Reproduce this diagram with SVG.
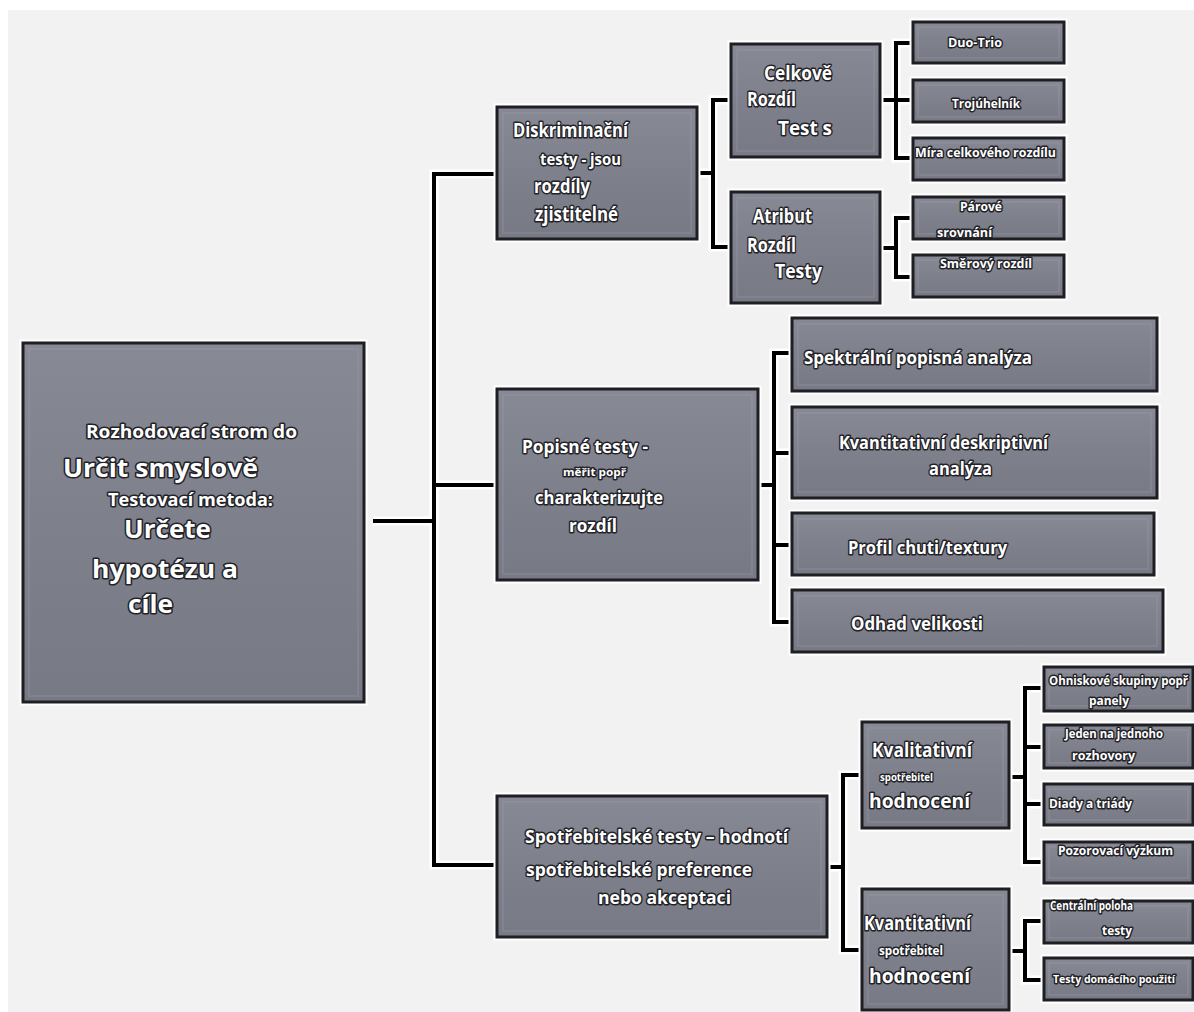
<svg xmlns="http://www.w3.org/2000/svg" width="1194" height="1012" viewBox="0 0 1194 1012">
<style>
.bg{fill:#f2f2f2}
.b{fill:url(#bf);stroke:#1e1e23;stroke-width:3}
.bi{fill:none;stroke:#a4a6b0;stroke-opacity:.22;stroke-width:2}
.bh{fill:none;stroke:#ffffff;stroke-width:7}
.t{font-family:"Open Sans","Liberation Sans",sans-serif;font-weight:700;fill:#ffffff;stroke:#222227;stroke-width:3;paint-order:stroke;stroke-linejoin:round}
.halo{fill:none;stroke:#ffffff;stroke-width:9;stroke-linejoin:miter}
.ln{fill:none;stroke:#000000;stroke-width:4;stroke-linejoin:miter}
</style>
<defs>
<linearGradient id="bf" x1="0" y1="0" x2="0" y2="1">
<stop offset="0" stop-color="#878994"/>
<stop offset="0.5" stop-color="#7e808c"/>
<stop offset="1" stop-color="#777985"/>
</linearGradient>
</defs>
<rect x="0" y="0" width="1194" height="1012" fill="#ffffff"/>
<rect class="bg" x="8" y="10" width="1186" height="1002"/>

<g id="connectors">
<path class="halo" d="M373,521H434M497,174H434V865H497M434,485H497M697,173H713M731,100H713V247H731M880,100H913M913,43H896V158H913M880,248H896M913,218H896V277H913M758,485H774M792,353H774V622H792M774,453H792M774,545H792M827,867H843M862,775H843V950H862M1009,777H1025M1044,688H1025V862H1044M1025,747H1044M1025,804H1044M1009,951H1025M1044,921H1025V980H1044"/>
<path class="ln" d="M373,521H434M497,174H434V865H497M434,485H497M697,173H713M731,100H713V247H731M880,100H913M913,43H896V158H913M880,248H896M913,218H896V277H913M758,485H774M792,353H774V622H792M774,453H792M774,545H792M827,867H843M862,775H843V950H862M1009,777H1025M1044,688H1025V862H1044M1025,747H1044M1025,804H1044M1009,951H1025M1044,921H1025V980H1044"/>
</g>

<g id="root">
<rect class="bh" x="23" y="343" width="341" height="359"/>
<rect class="b" x="23" y="343" width="341" height="359"/>
<rect class="bi" x="29" y="349" width="329" height="347"/>
<text class="t" x="86" y="438" font-size="17" textLength="211" lengthAdjust="spacingAndGlyphs">Rozhodovací strom do</text>
<text class="t" x="63" y="477" font-size="25" textLength="195" lengthAdjust="spacingAndGlyphs">Určit smyslově</text>
<text class="t" x="108" y="506" font-size="17" textLength="165" lengthAdjust="spacingAndGlyphs">Testovací metoda:</text>
<text class="t" x="124" y="538" font-size="25" textLength="87" lengthAdjust="spacingAndGlyphs">Určete</text>
<text class="t" x="92" y="578" font-size="25" textLength="146" lengthAdjust="spacingAndGlyphs">hypotézu a</text>
<text class="t" x="128" y="613" font-size="25" textLength="45" lengthAdjust="spacingAndGlyphs">cíle</text>
</g>

<g id="diskriminacni">
<rect class="bh" x="497" y="107" width="200" height="132"/>
<rect class="b" x="497" y="107" width="200" height="132"/>
<rect class="bi" x="503" y="113" width="188" height="120"/>
<text class="t" x="513" y="137" font-size="19" textLength="115" lengthAdjust="spacingAndGlyphs">Diskriminační</text>
<text class="t" x="540" y="165" font-size="16" textLength="81" lengthAdjust="spacingAndGlyphs">testy - jsou</text>
<text class="t" x="534" y="193" font-size="19" textLength="56" lengthAdjust="spacingAndGlyphs">rozdíly</text>
<text class="t" x="535" y="221" font-size="19" textLength="83" lengthAdjust="spacingAndGlyphs">zjistitelné</text>
</g>

<g id="celkove">
<rect class="bh" x="731" y="44" width="149" height="113"/>
<rect class="b" x="731" y="44" width="149" height="113"/>
<rect class="bi" x="737" y="50" width="137" height="101"/>
<text class="t" x="764" y="80" font-size="20" textLength="68" lengthAdjust="spacingAndGlyphs">Celkově</text>
<text class="t" x="747" y="106" font-size="20" textLength="49" lengthAdjust="spacingAndGlyphs">Rozdíl</text>
<text class="t" x="778" y="135" font-size="20" textLength="54" lengthAdjust="spacingAndGlyphs">Test s</text>
</g>

<g id="atribut">
<rect class="bh" x="731" y="192" width="149" height="111"/>
<rect class="b" x="731" y="192" width="149" height="111"/>
<rect class="bi" x="737" y="198" width="137" height="99"/>
<text class="t" x="753" y="223" font-size="20" textLength="59" lengthAdjust="spacingAndGlyphs">Atribut</text>
<text class="t" x="747" y="252" font-size="20" textLength="49" lengthAdjust="spacingAndGlyphs">Rozdíl</text>
<text class="t" x="775" y="278" font-size="20" textLength="47" lengthAdjust="spacingAndGlyphs">Testy</text>
</g>

<g id="duo-trio">
<rect class="bh" x="913" y="22" width="151" height="41"/>
<rect class="b" x="913" y="22" width="151" height="41"/>
<rect class="bi" x="918" y="27" width="141" height="31"/>
<text class="t" x="948" y="47" font-size="13" textLength="54" lengthAdjust="spacingAndGlyphs">Duo-Trio</text>
</g>

<g id="trojuhelnik">
<rect class="bh" x="913" y="80" width="151" height="42"/>
<rect class="b" x="913" y="80" width="151" height="42"/>
<rect class="bi" x="918" y="85" width="141" height="32"/>
<text class="t" x="952" y="108" font-size="13" textLength="68" lengthAdjust="spacingAndGlyphs">Trojúhelník</text>
</g>

<g id="mira">
<rect class="bh" x="913" y="138" width="151" height="42"/>
<rect class="b" x="913" y="138" width="151" height="42"/>
<rect class="bi" x="918" y="143" width="141" height="32"/>
<text class="t" x="915" y="157" font-size="13" textLength="141" lengthAdjust="spacingAndGlyphs">Míra celkového rozdílu</text>
</g>

<g id="parove">
<rect class="bh" x="913" y="197" width="151" height="42"/>
<rect class="b" x="913" y="197" width="151" height="42"/>
<rect class="bi" x="918" y="202" width="141" height="32"/>
<text class="t" x="960" y="211" font-size="12" textLength="42" lengthAdjust="spacingAndGlyphs">Párové</text>
<text class="t" x="937" y="237" font-size="12" textLength="55" lengthAdjust="spacingAndGlyphs">srovnání</text>
</g>

<g id="smerovy">
<rect class="bh" x="913" y="255" width="151" height="42"/>
<rect class="b" x="913" y="255" width="151" height="42"/>
<rect class="bi" x="918" y="260" width="141" height="32"/>
<text class="t" x="940" y="268" font-size="13" textLength="92" lengthAdjust="spacingAndGlyphs">Směrový rozdíl</text>
</g>

<g id="popisne">
<rect class="bh" x="497" y="389" width="261" height="191"/>
<rect class="b" x="497" y="389" width="261" height="191"/>
<rect class="bi" x="503" y="395" width="249" height="179"/>
<text class="t" x="522" y="453" font-size="18" textLength="126" lengthAdjust="spacingAndGlyphs">Popisné testy -</text>
<text class="t" x="563" y="476" font-size="11" textLength="63" lengthAdjust="spacingAndGlyphs">měřit popř</text>
<text class="t" x="535" y="504" font-size="18" textLength="128" lengthAdjust="spacingAndGlyphs">charakterizujte</text>
<text class="t" x="569" y="532" font-size="18" textLength="48" lengthAdjust="spacingAndGlyphs">rozdíl</text>
</g>

<g id="spektralni">
<rect class="bh" x="792" y="318" width="365" height="73"/>
<rect class="b" x="792" y="318" width="365" height="73"/>
<rect class="bi" x="798" y="324" width="353" height="61"/>
<text class="t" x="804" y="364" font-size="18" textLength="228" lengthAdjust="spacingAndGlyphs">Spektrální popisná analýza</text>
</g>

<g id="kvantitativni-deskriptivni">
<rect class="bh" x="792" y="407" width="365" height="91"/>
<rect class="b" x="792" y="407" width="365" height="91"/>
<rect class="bi" x="798" y="413" width="353" height="79"/>
<text class="t" x="839" y="449" font-size="18" textLength="209" lengthAdjust="spacingAndGlyphs">Kvantitativní deskriptivní</text>
<text class="t" x="929" y="475" font-size="18" textLength="63" lengthAdjust="spacingAndGlyphs">analýza</text>
</g>

<g id="profil">
<rect class="bh" x="792" y="513" width="362" height="62"/>
<rect class="b" x="792" y="513" width="362" height="62"/>
<rect class="bi" x="798" y="519" width="350" height="50"/>
<text class="t" x="848" y="554" font-size="18" textLength="159" lengthAdjust="spacingAndGlyphs">Profil chuti/textury</text>
</g>

<g id="odhad">
<rect class="bh" x="792" y="590" width="371" height="62"/>
<rect class="b" x="792" y="590" width="371" height="62"/>
<rect class="bi" x="798" y="596" width="359" height="50"/>
<text class="t" x="851" y="630" font-size="18" textLength="132" lengthAdjust="spacingAndGlyphs">Odhad velikosti</text>
</g>

<g id="spotrebitelske">
<rect class="bh" x="497" y="796" width="330" height="141"/>
<rect class="b" x="497" y="796" width="330" height="141"/>
<rect class="bi" x="503" y="802" width="318" height="129"/>
<text class="t" x="525" y="843" font-size="18" textLength="263" lengthAdjust="spacingAndGlyphs">Spotřebitelské testy – hodnotí</text>
<text class="t" x="526" y="876" font-size="18" textLength="226" lengthAdjust="spacingAndGlyphs">spotřebitelské preference</text>
<text class="t" x="598" y="904" font-size="18" textLength="133" lengthAdjust="spacingAndGlyphs">nebo akceptaci</text>
</g>

<g id="kvalitativni">
<rect class="bh" x="862" y="722" width="147" height="106"/>
<rect class="b" x="862" y="722" width="147" height="106"/>
<rect class="bi" x="868" y="728" width="135" height="94"/>
<text class="t" x="872" y="757" font-size="19" textLength="100" lengthAdjust="spacingAndGlyphs">Kvalitativní</text>
<text class="t" x="880" y="781" font-size="11" textLength="53" lengthAdjust="spacingAndGlyphs">spotřebitel</text>
<text class="t" x="869" y="808" font-size="19" textLength="101" lengthAdjust="spacingAndGlyphs">hodnocení</text>
</g>

<g id="kvantitativni">
<rect class="bh" x="862" y="889" width="147" height="121"/>
<rect class="b" x="862" y="889" width="147" height="121"/>
<rect class="bi" x="868" y="895" width="135" height="109"/>
<text class="t" x="864" y="930" font-size="19" textLength="107" lengthAdjust="spacingAndGlyphs">Kvantitativní</text>
<text class="t" x="879" y="955" font-size="12" textLength="64" lengthAdjust="spacingAndGlyphs">spotřebitel</text>
<text class="t" x="869" y="983" font-size="19" textLength="101" lengthAdjust="spacingAndGlyphs">hodnocení</text>
</g>

<g id="ohniskove">
<rect class="bh" x="1044" y="667" width="149" height="44"/>
<rect class="b" x="1044" y="667" width="149" height="44"/>
<rect class="bi" x="1049" y="672" width="139" height="34"/>
<text class="t" x="1049" y="685" font-size="12" textLength="139" lengthAdjust="spacingAndGlyphs">Ohniskové skupiny popř</text>
<text class="t" x="1089" y="705" font-size="12" textLength="40" lengthAdjust="spacingAndGlyphs">panely</text>
</g>

<g id="jeden">
<rect class="bh" x="1044" y="725" width="149" height="43"/>
<rect class="b" x="1044" y="725" width="149" height="43"/>
<rect class="bi" x="1049" y="730" width="139" height="33"/>
<text class="t" x="1065" y="738" font-size="12" textLength="98" lengthAdjust="spacingAndGlyphs">Jeden na jednoho</text>
<text class="t" x="1072" y="760" font-size="12" textLength="63" lengthAdjust="spacingAndGlyphs">rozhovory</text>
</g>

<g id="diady">
<rect class="bh" x="1044" y="784" width="149" height="41"/>
<rect class="b" x="1044" y="784" width="149" height="41"/>
<rect class="bi" x="1049" y="789" width="139" height="31"/>
<text class="t" x="1049" y="808" font-size="13" textLength="83" lengthAdjust="spacingAndGlyphs">Diady a triády</text>
</g>

<g id="pozorovaci">
<rect class="bh" x="1044" y="842" width="149" height="41"/>
<rect class="b" x="1044" y="842" width="149" height="41"/>
<rect class="bi" x="1049" y="847" width="139" height="31"/>
<text class="t" x="1058" y="855" font-size="12" textLength="115" lengthAdjust="spacingAndGlyphs">Pozorovací výzkum</text>
</g>

<g id="centralni">
<rect class="bh" x="1044" y="901" width="149" height="42"/>
<rect class="b" x="1044" y="901" width="149" height="42"/>
<rect class="bi" x="1049" y="906" width="139" height="32"/>
<text class="t" x="1050" y="910" font-size="12" textLength="83" lengthAdjust="spacingAndGlyphs">Centrální poloha</text>
<text class="t" x="1102" y="935" font-size="12" textLength="30" lengthAdjust="spacingAndGlyphs">testy</text>
</g>

<g id="testy-domaciho">
<rect class="bh" x="1044" y="958" width="149" height="42"/>
<rect class="b" x="1044" y="958" width="149" height="42"/>
<rect class="bi" x="1049" y="963" width="139" height="32"/>
<text class="t" x="1053" y="983" font-size="11" textLength="122" lengthAdjust="spacingAndGlyphs">Testy domácího použití</text>
</g>
</svg>
